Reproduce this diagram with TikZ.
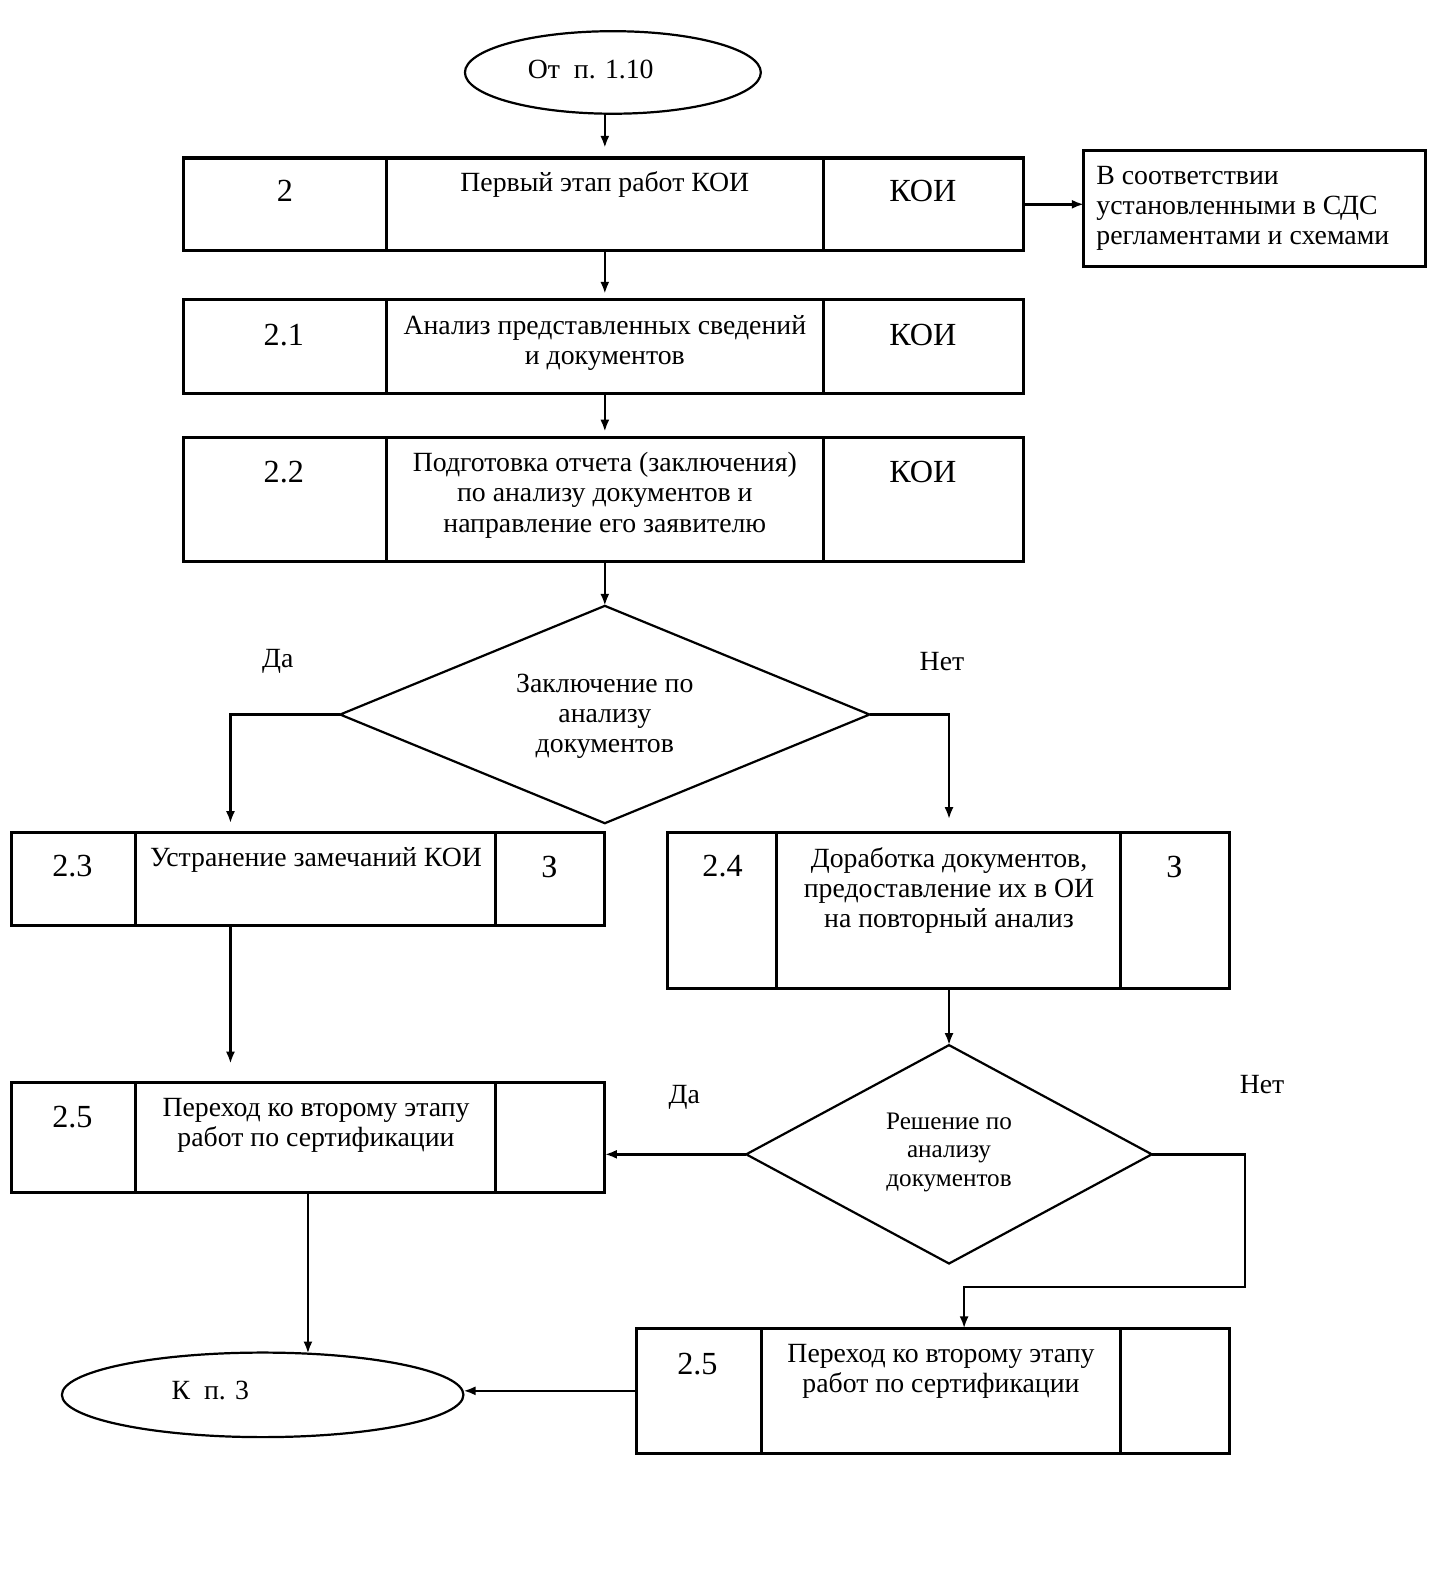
\documentclass[tikz,border=0pt]{standalone}
\usepackage{fontspec}
\setmainfont{Liberation Serif}
\usetikzlibrary{shapes.geometric,arrows.meta}
\begin{document}
\begin{tikzpicture}[x=0.5pt,y=-0.5pt,
  cell/.style={draw,line width=1.5pt,rectangle,inner sep=0pt,outer sep=0pt,anchor=north west},
  ell/.style={draw,line width=1.1pt,ellipse,inner sep=0pt,outer sep=0pt},
  dia/.style={draw,line width=1.1pt,diamond,inner sep=0pt,outer sep=0pt},
  txt/.style={align=center,font=\fontsize{13.8}{15}\selectfont,inner sep=0pt},
  stxt/.style={align=center,font=\fontsize{12.5}{14}\selectfont,inner sep=0pt},
  num/.style={font=\fontsize{16}{18}\selectfont,inner sep=0pt},
  conn/.style={line width=1.2pt,-{Latex[length=6pt,width=4.5pt]}},
  line/.style={line width=1.2pt}]
\useasboundingbox[fill=white] (0,0) rectangle (1427,1568);

% start ellipse
\node[ell,minimum width=147pt,minimum height=41pt] (start) at (609,72) {};
\node[txt] (startlbl) at (587,69) {От\ \ п. 1.10};

% box 2
\node[cell,minimum width=101pt,minimum height=46pt] (b2a) at (182,157) {};
\node[cell,minimum width=217pt,minimum height=46pt] (b2b) at (384,157) {};
\node[cell,minimum width=99.5pt,minimum height=46pt] (b2c) at (818,157) {};
\node[num] (b2n) at (283,190) {2};
\node[txt] (b2t) at (601,183) {Первый этап работ КОИ};
\node[num] (b2r) at (917,190) {КОИ};

% side box
\node[cell,minimum width=169.5pt,minimum height=57.5pt] (side) at (1077,150) {};
\node[txt,align=left,anchor=west] (sidelbl) at (1089,207) {В соответствии\\установленными в СДС\\регламентами и схемами};

% box 2.1
\node[cell,minimum width=101pt,minimum height=46.5pt] (b21a) at (182,298) {};
\node[cell,minimum width=217pt,minimum height=46.5pt] (b21b) at (384,298) {};
\node[cell,minimum width=99.5pt,minimum height=46.5pt] (b21c) at (818,298) {};
\node[num] (b21n) at (282,333) {2.1};
\node[txt] (b21t) at (601,341) {Анализ представленных сведений\\и документов};
\node[num] (b21r) at (917,333) {КОИ};

% box 2.2
\node[cell,minimum width=101pt,minimum height=61.5pt] (b22a) at (182,435) {};
\node[cell,minimum width=217pt,minimum height=61.5pt] (b22b) at (384,435) {};
\node[cell,minimum width=99.5pt,minimum height=61.5pt] (b22c) at (818,435) {};
\node[num] (b22n) at (282,469) {2.2};
\node[txt] (b22t) at (601,492) {Подготовка отчета (заключения)\\по анализу документов и\\направление его заявителю};
\node[num] (b22r) at (917,469) {КОИ};

% decision 1
\node[dia,minimum width=263pt,minimum height=108pt] (d1) at (601,710) {};
\node[txt] (d1t) at (601,712) {Заключение по\\анализу\\документов};
\node[txt] (yes1) at (276,657) {Да};
\node[txt] (no1) at (936,657) {Нет};

% box 2.3
\node[cell,minimum width=62pt,minimum height=46.5pt] (b23a) at (11,827) {};
\node[cell,minimum width=178.5pt,minimum height=46.5pt] (b23b) at (135,827) {};
\node[cell,minimum width=54.5pt,minimum height=46.5pt] (b23c) at (492,827) {};
\node[num] (b23n) at (72,861) {2.3};
\node[txt] (b23t) at (314,854) {Устранение замечаний КОИ};
\node[num] (b23r) at (546,861) {З};

% box 2.4
\node[cell,minimum width=54.5pt,minimum height=77.5pt] (b24a) at (663,827) {};
\node[cell,minimum width=170.5pt,minimum height=77.5pt] (b24b) at (772,827) {};
\node[cell,minimum width=54.5pt,minimum height=77.5pt] (b24c) at (1113,827) {};
\node[num] (b24n) at (718,861) {2.4};
\node[txt] (b24t) at (943,885) {Доработка документов,\\предоставление их в ОИ\\на повторный анализ};
\node[num] (b24r) at (1167,861) {З};

% box 2.5 left
\node[cell,minimum width=62pt,minimum height=54.5pt] (b25a) at (11,1076) {};
\node[cell,minimum width=178.5pt,minimum height=54.5pt] (b25b) at (135,1076) {};
\node[cell,minimum width=54.5pt,minimum height=54.5pt] (b25c) at (492,1076) {};
\node[num] (b25n) at (72,1110) {2.5};
\node[txt] (b25t) at (314,1118) {Переход ко второму этапу\\работ по сертификации};

% decision 2
\node[dia,minimum width=201.5pt,minimum height=108.5pt] (d2) at (943,1147) {};
\node[stxt] (d2t) at (943,1145) {Решение по\\анализу\\документов};
\node[txt] (yes2) at (680,1090) {Да};
\node[txt] (no2) at (1254,1078) {Нет};

% box 2.5 right
\node[cell,minimum width=62.5pt,minimum height=62pt] (b26a) at (632,1320) {};
\node[cell,minimum width=178pt,minimum height=62pt] (b26b) at (757,1320) {};
\node[cell,minimum width=54.5pt,minimum height=62pt] (b26c) at (1113,1320) {};
\node[num] (b26n) at (693,1355) {2.5};
\node[txt] (b26t) at (935,1363) {Переход ко второму этапу\\работ по сертификации};

% end ellipse
\node[ell,minimum width=199.5pt,minimum height=42pt] (end) at (261,1386) {};
\node[txt] (endlbl) at (209,1382) {К\ \ п. 3};

% helper coordinates
\coordinate (y1) at (229,710);
\coordinate (n1) at (943,710);
\coordinate (y3) at (229,920);
\coordinate (n2a) at (1237,1147);
\coordinate (n2b) at (1237,1279);
\coordinate (n2c) at (958,1279);
\coordinate (e1) at (306,1185);
\coordinate (e2) at (306,1345);

% connectors
\draw[conn,shorten >=5pt] (b2b.north |- start.south) -- (b2b.north);
\draw[conn] (b2c.east) -- (side.west |- b2c.east);
\draw[conn,shorten >=3pt] (b2b.south) -- (b21b.north);
\draw[conn,shorten >=3pt] (b21b.south) -- (b22b.north);
\draw[conn] (d1.north |- b22b.south) -- (d1.north);
\draw[conn,shorten >=4.5pt] (d1.west) -- (y1) -- (y1 |- b23b.north);
\draw[conn,shorten >=6.5pt] (d1.east) -- (n1) -- (n1 |- b24b.north);
\draw[conn,shorten >=9.5pt] (y3) -- (y3 |- b25b.north);
\draw[conn] (d2.north |- b24b.south) -- (d2.north);
\draw[conn] (d2.west) -- (d2.west -| b25c.east);
\draw[conn] (d2.east) -- (n2a) -- (n2b) -- (n2c) -- (n2c |- b26b.north);
\draw[conn] (e1) -- (e2);
\draw[conn] (b26a.west) -- (b26a.west -| end.east);
\end{tikzpicture}
\end{document}
